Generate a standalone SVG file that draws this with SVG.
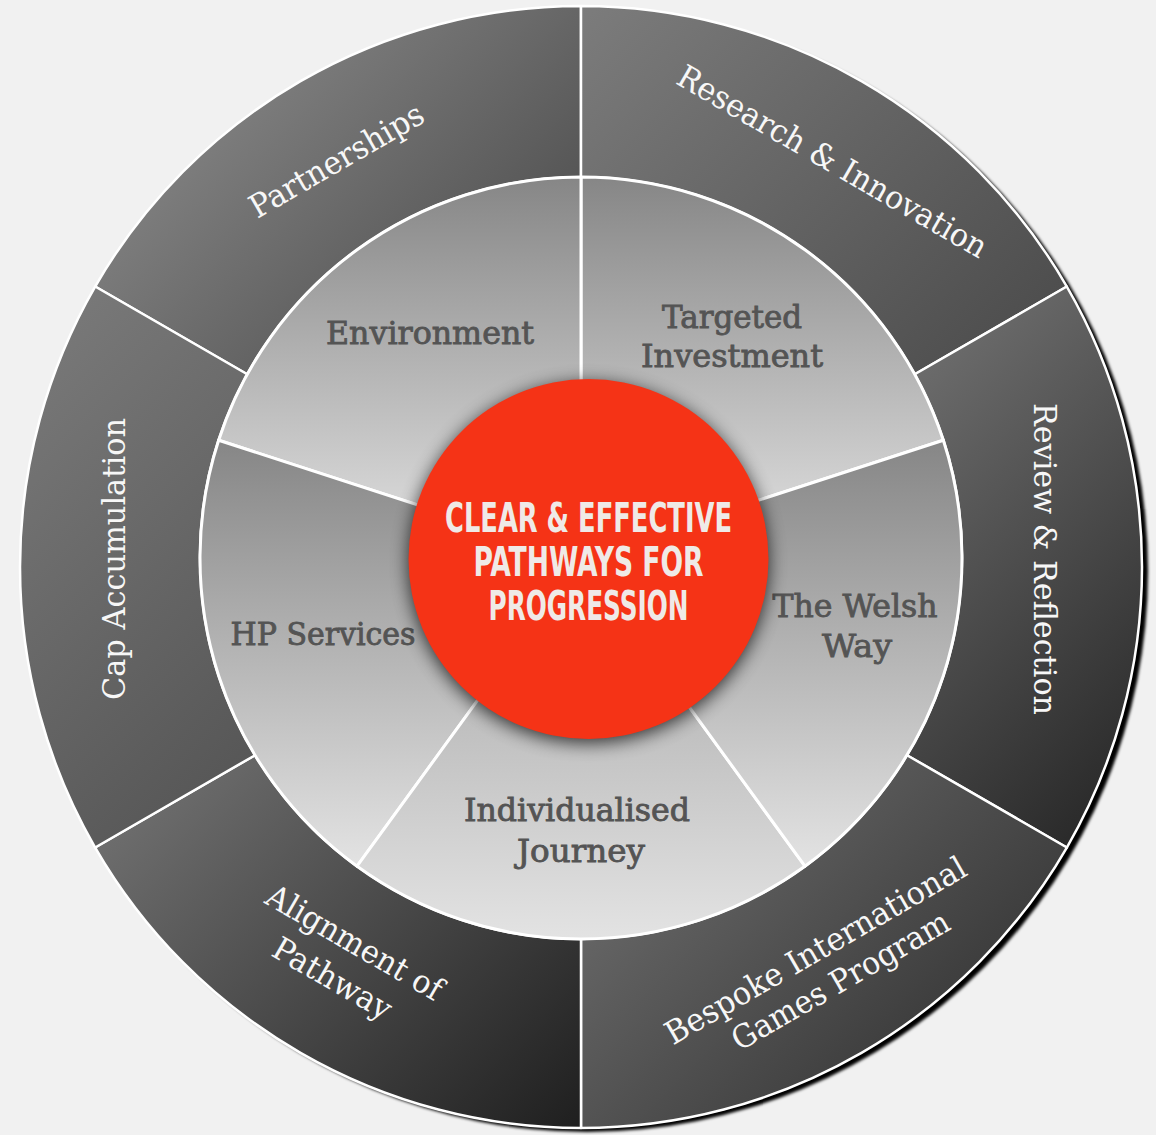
<svg xmlns="http://www.w3.org/2000/svg" width="1156" height="1135" viewBox="0 0 1156 1135">
<defs>
<style>
.seg-out{stroke:#fff;stroke-width:2.5;stroke-linejoin:round}
.seg-in{stroke:#fff;stroke-width:3;stroke-linejoin:round;fill:url(#gIn)}
.lbl-out{font-family:"DejaVu Serif","Liberation Serif",serif;font-size:32px;fill:#f7f7f7;text-anchor:middle}
.lbl-in{font-family:"DejaVu Serif","Liberation Serif",serif;font-size:32px;fill:#545454;stroke:#545454;stroke-width:0.9;text-anchor:middle}
.hub-txt{font-family:"Liberation Sans Narrow","DejaVu Sans Condensed","DejaVu Sans",sans-serif;font-weight:700;font-size:41px;fill:#efeae7;text-anchor:middle}
</style>
<linearGradient id="gPart" gradientUnits="userSpaceOnUse" x1="177" y1="177" x2="379" y2="379"><stop offset="0" stop-color="#7c7c7c"/><stop offset="1" stop-color="#565656"/></linearGradient>
<linearGradient id="gRes" gradientUnits="userSpaceOnUse" x1="293.5" y1="293.5" x2="676.5" y2="676.5"><stop offset="0" stop-color="#7c7c7c"/><stop offset="1" stop-color="#4e4e4e"/></linearGradient>
<linearGradient id="gRev" gradientUnits="userSpaceOnUse" x1="644.5" y1="644.5" x2="957.5" y2="957.5"><stop offset="0" stop-color="#6b6b6b"/><stop offset="1" stop-color="#2a2a2a"/></linearGradient>
<linearGradient id="gBes" gradientUnits="userSpaceOnUse" x1="760" y1="760" x2="970.5" y2="970.5"><stop offset="0" stop-color="#646464"/><stop offset="1" stop-color="#3e3e3e"/></linearGradient>
<linearGradient id="gAli" gradientUnits="userSpaceOnUse" x1="471.5" y1="471.5" x2="854.5" y2="854.5"><stop offset="0" stop-color="#6d6d6d"/><stop offset="1" stop-color="#1f1f1f"/></linearGradient>
<linearGradient id="gCap" gradientUnits="userSpaceOnUse" x1="190.5" y1="190.5" x2="505" y2="505"><stop offset="0" stop-color="#787878"/><stop offset="1" stop-color="#575757"/></linearGradient>
<linearGradient id="gIn" x1="0" y1="0" x2="0" y2="1"><stop offset="0" stop-color="#868686"/><stop offset="1" stop-color="#e3e3e3"/></linearGradient>
<linearGradient id="gInLow" x1="0" y1="0" x2="0" y2="1"><stop offset="0" stop-color="#a4a4a4"/><stop offset="1" stop-color="#e3e3e3"/></linearGradient>
<filter id="ringShadow" x="-5%" y="-5%" width="110%" height="110%"><feGaussianBlur stdDeviation="1.5"/></filter>
<filter id="hubShadow" x="-30%" y="-30%" width="160%" height="160%"><feGaussianBlur stdDeviation="9"/></filter>
</defs>
<rect width="1156" height="1135" fill="#f1f1f1"/>
<circle cx="587" cy="571" r="561" fill="#000" filter="url(#ringShadow)"/>

<g id="outer-ring">
<g id="partnerships">
<path class="seg-out" fill="url(#gPart)" d="M581,177 L581,6 A561,561 0 0 0 95.16,286.5 L247.22,374.29 A381,381 0 0 1 581,177 Z"/>
<text class="lbl-out" transform="translate(342,170) rotate(-30)" textLength="196" lengthAdjust="spacingAndGlyphs">Partnerships</text>
</g>
<g id="research-innovation">
<path class="seg-out" fill="url(#gRes)" d="M581,6 A561,561 0 0 1 1066.84,286.5 L914.78,374.29 A381,381 0 0 0 581,177 Z"/>
<text class="lbl-out" transform="translate(827,171) rotate(30)" textLength="352" lengthAdjust="spacingAndGlyphs">Research &amp; Innovation</text>
</g>
<g id="review-reflection">
<path class="seg-out" fill="url(#gRev)" d="M1066.84,286.5 A561,561 0 0 1 1066.84,847.5 L906.99,755.21 A381,381 0 0 0 914.78,374.29 Z"/>
<text class="lbl-out" transform="translate(1034,559) rotate(90)" textLength="312" lengthAdjust="spacingAndGlyphs">Review &amp; Reflection</text>
</g>
<g id="bespoke-games">
<path class="seg-out" fill="url(#gBes)" d="M1066.84,847.5 A561,561 0 0 1 581,1128 L581,939 A381,381 0 0 0 906.99,755.21 Z"/>
<text class="lbl-out" transform="translate(821,960) rotate(-30)" textLength="342" lengthAdjust="spacingAndGlyphs">Bespoke International</text>
<text class="lbl-out" transform="translate(846,990) rotate(-30)" textLength="246" lengthAdjust="spacingAndGlyphs">Games Program</text>
</g>
<g id="alignment-pathway">
<path class="seg-out" fill="url(#gAli)" d="M581,1128 A561,561 0 0 1 95.16,847.5 L255.01,755.21 A381,381 0 0 0 581,939 Z"/>
<text class="lbl-out" transform="translate(349,952) rotate(30)" textLength="198" lengthAdjust="spacingAndGlyphs">Alignment of</text>
<text class="lbl-out" transform="translate(327,988) rotate(30)" textLength="132" lengthAdjust="spacingAndGlyphs">Pathway</text>
</g>
<g id="cap-accumulation">
<path class="seg-out" fill="url(#gCap)" d="M95.16,847.5 A561,561 0 0 1 95.16,286.5 L247.22,374.29 A381,381 0 0 0 255.01,755.21 Z"/>
<text class="lbl-out" transform="translate(125,559) rotate(-90)" textLength="282" lengthAdjust="spacingAndGlyphs">Cap Accumulation</text>
</g>
</g>

<g id="inner-ring">
<g id="targeted-investment">
<path class="seg-in" d="M581,558 L943.35,440.26 A381,381 0 0 0 581,177 Z"/>
<text class="lbl-in" x="732" y="328" textLength="140" lengthAdjust="spacingAndGlyphs">Targeted</text>
<text class="lbl-in" x="732" y="367" textLength="182" lengthAdjust="spacingAndGlyphs">Investment</text>
</g>
<g id="environment">
<path class="seg-in" d="M581,558 L581,177 A381,381 0 0 0 218.65,440.26 Z"/>
<text class="lbl-in" x="430" y="344" textLength="208" lengthAdjust="spacingAndGlyphs">Environment</text>
</g>
<g id="hp-services">
<path class="seg-in" d="M581,558 L218.65,440.26 A381,381 0 0 0 357.05,866.24 Z"/>
<text class="lbl-in" x="323" y="645" textLength="185" lengthAdjust="spacingAndGlyphs">HP Services</text>
</g>
<g id="individualised-journey">
<path class="seg-in" style="fill:url(#gInLow)" d="M581,558 L357.05,866.24 A381,381 0 0 0 804.95,866.24 Z"/>
<text class="lbl-in" x="577" y="821" textLength="226" lengthAdjust="spacingAndGlyphs">Individualised</text>
<text class="lbl-in" x="581" y="862" textLength="128" lengthAdjust="spacingAndGlyphs">Journey</text>
</g>
<g id="welsh-way">
<path class="seg-in" d="M581,558 L804.95,866.24 A381,381 0 0 0 943.35,440.26 Z"/>
<text class="lbl-in" x="855" y="617" textLength="165" lengthAdjust="spacingAndGlyphs">The Welsh</text>
<text class="lbl-in" x="857" y="657" textLength="70" lengthAdjust="spacingAndGlyphs">Way</text>
</g>
</g>

<g id="hub">
<circle cx="588.5" cy="563" r="180" fill="#000" opacity="0.75" filter="url(#hubShadow)"/>
<circle cx="588.5" cy="559" r="180" fill="#f53316"/>
<text class="hub-txt" x="588.5" y="532" textLength="287" lengthAdjust="spacingAndGlyphs">CLEAR &amp; EFFECTIVE</text>
<text class="hub-txt" x="588.5" y="576" textLength="230" lengthAdjust="spacingAndGlyphs">PATHWAYS FOR</text>
<text class="hub-txt" x="588.5" y="620" textLength="200" lengthAdjust="spacingAndGlyphs">PROGRESSION</text>
</g>
</svg>
